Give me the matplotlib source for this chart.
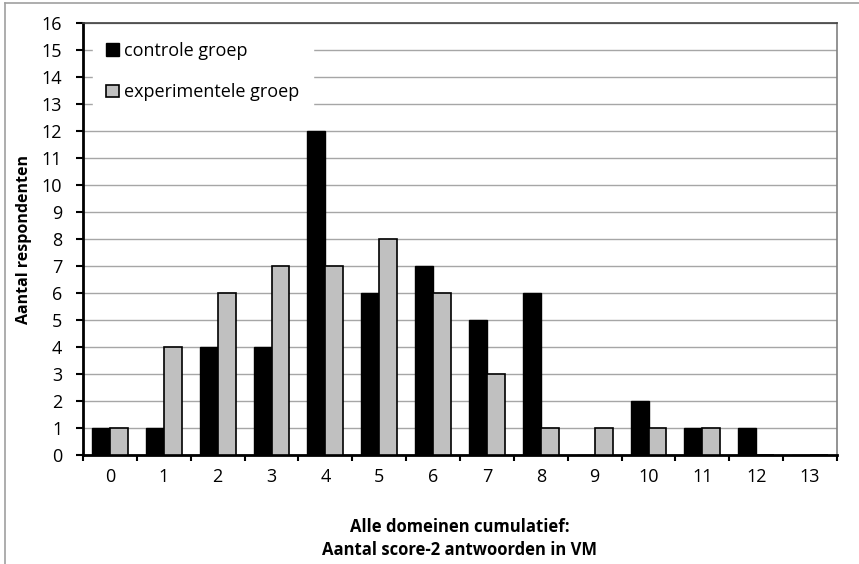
"""Grouped bar chart: score-2 antwoorden per groep."""
import matplotlib.pyplot as plt
import numpy as np
from matplotlib.lines import Line2D

# Data
categories = ["0", "1", "2", "3", "4", "5", "6", "7", "8", "9", "10", "11", "12", "13"]
controle = [1, 1, 4, 4, 12, 6, 7, 5, 6, 0, 2, 1, 1, 0]
experimenteel = [1, 4, 6, 7, 7, 8, 6, 3, 1, 1, 1, 1, 0, 0]
yticks = list(range(0, 17))

plt.rcParams.update({'font.family': ['Open Sans', 'DejaVu Sans']})
plt.rcParams.update({'font.size': 13})

fig = plt.figure(figsize=[8.59, 5.64], dpi=100)
ax = fig.add_axes([83 / 859, 1 - 455 / 564, 754 / 859, 432 / 564])

x = np.arange(len(categories))
w = 1 / 3
ax.bar(x - w / 2, controle, width=w, color="black", edgecolor="black",
       linewidth=1.0, label="controle groep", zorder=3)
ax.bar(x + w / 2, experimenteel, width=w, color="#c0c0c0", edgecolor="black",
       linewidth=1.2, label="experimentele groep", zorder=3)

# Axes
ax.set_xlim(-0.5, len(categories) - 0.5)
ax.set_ylim(0, 16)
ax.set_yticks(yticks)
ax.yaxis.grid(True, color="#a6a6a6", linewidth=1.0)
ax.set_axisbelow(True)

ax.set_xticks(x)
ax.set_xticklabels(categories)
ax.set_xticks(np.arange(len(categories) + 1) - 0.5, minor=True)
ax.tick_params(axis='x', which='major', length=0, pad=9)
ax.tick_params(axis='x', which='minor', length=4.5, width=1.5, direction='out')
ax.tick_params(axis='y', length=5, width=1.5, direction='out', pad=10)

for side in ['left', 'bottom']:
    ax.spines[side].set_linewidth(2)
    ax.spines[side].set_color("black")
ax.spines['top'].set_color("#404040")
ax.spines['top'].set_linewidth(1.2)
ax.spines['right'].set_color("#808080")
ax.spines['right'].set_linewidth(1.2)

ax.set_ylabel("Aantal respondenten", fontweight='bold', fontsize=11.5)
ax.yaxis.set_label_coords(-0.067, 0.5)
ax.set_xlabel("Alle domeinen cumulatief:\nAantal score-2 antwoorden in VM",
              fontweight='bold', fontsize=12, linespacing=1.4)
ax.xaxis.set_label_coords(0.5, -0.145)

leg = ax.legend(loc='upper left', bbox_to_anchor=(0.013, 0.988),
                frameon=True, fancybox=False, edgecolor="white",
                facecolor="white", framealpha=1, borderpad=0.75,
                labelspacing=1.3, handlelength=0.7, handleheight=0.7,
                handletextpad=0.3, borderaxespad=0)
leg.set_zorder(4)

# Chart frame
fig.add_artist(Line2D([5 / 859, 5 / 859], [0, 1 - 3 / 564], color="#a0a0a0",
                      linewidth=1.2))
fig.add_artist(Line2D([5 / 859, 1], [1 - 3 / 564, 1 - 3 / 564], color="#a0a0a0",
                      linewidth=1.2))

plt.savefig("out.png", dpi=100)
